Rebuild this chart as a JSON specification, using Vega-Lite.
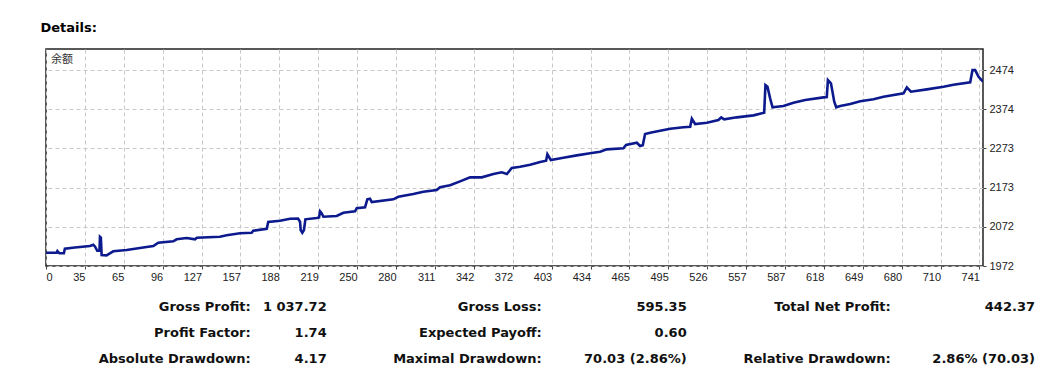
{
  "$schema": "https://vega.github.io/schema/vega-lite/v6.json",
  "autosize": {"type": "none"},
  "width": 937,
  "height": 217,
  "padding": {"left": 46, "top": 49, "right": 72, "bottom": 122},
  "background": "white",
  "title": {"text": "Details:", "anchor": "start", "dx": -5, "offset": 14, "fontSize": 13, "font": "DejaVu Sans", "fontWeight": "bold", "color": "#000"},
  "config": {
    "view": {"stroke": "#222", "strokeWidth": 1.5},
    "axis": {"labelFont": "Liberation Sans", "labelFontSize": 11, "labelColor": "#222", "gridColor": "#c8c8c8", "gridDash": [4, 3], "gridWidth": 1, "domain": false, "tickColor": "#444", "tickSize": 3, "title": null}
  },
  "datasets": {
    "balance": [
      {"n": 4.3, "b": 2006.1}, {"n": 12.7, "b": 2006}, {"n": 13.3, "b": 2010.4}, {"n": 14.9, "b": 2004.5},
      {"n": 18.4, "b": 2004.5}, {"n": 19.2, "b": 2016.3}, {"n": 27.1, "b": 2019.4}, {"n": 38.96, "b": 2023.2},
      {"n": 41.6, "b": 2026.6}, {"n": 42.9, "b": 2022}, {"n": 44.7, "b": 2011.2}, {"n": 46.5, "b": 2011.7},
      {"n": 46.9, "b": 2047}, {"n": 47.6, "b": 2045}, {"n": 48.2, "b": 2000.2}, {"n": 52.1, "b": 1999.4},
      {"n": 57.4, "b": 2009.7}, {"n": 67.9, "b": 2013}, {"n": 78.4, "b": 2018.1}, {"n": 89.0, "b": 2023.2},
      {"n": 92.9, "b": 2031.7}, {"n": 104.7, "b": 2035.3}, {"n": 107.4, "b": 2040.4}, {"n": 115.3, "b": 2043.7},
      {"n": 121.9, "b": 2040.4}, {"n": 123.4, "b": 2044.5}, {"n": 141.6, "b": 2047}, {"n": 146.9, "b": 2050.6},
      {"n": 157.4, "b": 2055.8}, {"n": 166.6, "b": 2057.3}, {"n": 167.9, "b": 2062.4}, {"n": 178.5, "b": 2067.5},
      {"n": 179.7, "b": 2084.7}, {"n": 189, "b": 2088}, {"n": 196.9, "b": 2093.2}, {"n": 203.2, "b": 2093.7},
      {"n": 204.8, "b": 2085.5}, {"n": 205.3, "b": 2064.2}, {"n": 206.6, "b": 2057.3}, {"n": 207.9, "b": 2064.2},
      {"n": 209, "b": 2091.6}, {"n": 218, "b": 2094.9}, {"n": 219.8, "b": 2096.2}, {"n": 220.6, "b": 2112.1},
      {"n": 221.7, "b": 2107.8}, {"n": 223.2, "b": 2098.3}, {"n": 233.7, "b": 2100.1}, {"n": 239, "b": 2108.5},
      {"n": 248.2, "b": 2112.1}, {"n": 249.5, "b": 2119.8}, {"n": 256.1, "b": 2122.4}, {"n": 257.9, "b": 2142.8},
      {"n": 260, "b": 2144.4}, {"n": 261.4, "b": 2135.9}, {"n": 278.4, "b": 2142.8}, {"n": 282.4, "b": 2149.5},
      {"n": 294.2, "b": 2156.4}, {"n": 302.1, "b": 2162.3}, {"n": 312.7, "b": 2166.7}, {"n": 315.3, "b": 2173.6},
      {"n": 323.2, "b": 2178.7}, {"n": 331.1, "b": 2188.9}, {"n": 339, "b": 2199.2}, {"n": 348.2, "b": 2199.2},
      {"n": 357.4, "b": 2207.6}, {"n": 364, "b": 2212}, {"n": 368, "b": 2207.6}, {"n": 371.9, "b": 2223},
      {"n": 378.5, "b": 2226.3}, {"n": 386.4, "b": 2231.5}, {"n": 394.3, "b": 2238.4}, {"n": 399, "b": 2241.7},
      {"n": 400, "b": 2258.1}, {"n": 402.7, "b": 2243.5}, {"n": 412.6, "b": 2249.4}, {"n": 423.2, "b": 2255.5},
      {"n": 433.7, "b": 2260.7}, {"n": 441.6, "b": 2264.8}, {"n": 446.9, "b": 2270.9}, {"n": 460, "b": 2273.5},
      {"n": 462.1, "b": 2281.9}, {"n": 470.6, "b": 2287.8}, {"n": 473.2, "b": 2279.4}, {"n": 475.3, "b": 2281.2},
      {"n": 477.1, "b": 2310.1}, {"n": 481.1, "b": 2313.4}, {"n": 489, "b": 2318.6}, {"n": 496.9, "b": 2323.7},
      {"n": 507.4, "b": 2327.3}, {"n": 512.7, "b": 2328.8}, {"n": 514, "b": 2349.3}, {"n": 516.6, "b": 2335.7},
      {"n": 525.9, "b": 2339}, {"n": 535, "b": 2346}, {"n": 537.2, "b": 2352.9}, {"n": 539.5, "b": 2347.8},
      {"n": 549.5, "b": 2352.9}, {"n": 562.7, "b": 2358}, {"n": 571.1, "b": 2364.7}, {"n": 572.1, "b": 2435.6},
      {"n": 573.7, "b": 2431.3}, {"n": 575.8, "b": 2401.5}, {"n": 577.7, "b": 2378.5}, {"n": 586.3, "b": 2381.8},
      {"n": 594.2, "b": 2390.3}, {"n": 603.5, "b": 2397.2}, {"n": 617.9, "b": 2404.1}, {"n": 620.5, "b": 2404.9},
      {"n": 621.4, "b": 2448.4}, {"n": 623.8, "b": 2440}, {"n": 626.4, "b": 2392.8}, {"n": 628, "b": 2378.5},
      {"n": 631.1, "b": 2381.8}, {"n": 639, "b": 2386.9}, {"n": 646.9, "b": 2393.9}, {"n": 657.4, "b": 2399},
      {"n": 665.3, "b": 2405.7}, {"n": 681.1, "b": 2414.4}, {"n": 683.7, "b": 2429.7}, {"n": 686.9, "b": 2418.5},
      {"n": 699.5, "b": 2424.6}, {"n": 712.6, "b": 2431.3}, {"n": 720.5, "b": 2436.4}, {"n": 733.7, "b": 2442.5},
      {"n": 735.5, "b": 2474}, {"n": 737.6, "b": 2474}, {"n": 740.3, "b": 2456.9}, {"n": 743.8, "b": 2444.1}
    ],
    "stats": [
      {"label": "Gross Profit:", "value": "1 037.72", "col": 1, "row": 1},
      {"label": "Profit Factor:", "value": "1.74", "col": 1, "row": 2},
      {"label": "Absolute Drawdown:", "value": "4.17", "col": 1, "row": 3},
      {"label": "Gross Loss:", "value": "595.35", "col": 2, "row": 1},
      {"label": "Expected Payoff:", "value": "0.60", "col": 2, "row": 2},
      {"label": "Maximal Drawdown:", "value": "70.03 (2.86%)", "col": 2, "row": 3},
      {"label": "Total Net Profit:", "value": "442.37", "col": 3, "row": 1},
      {"label": "Relative Drawdown:", "value": "2.86% (70.03)", "col": 3, "row": 3}
    ],
    "caption": [{"text": "余额", "n": 4.3, "b": 2528}]
  },
  "resolve": {"scale": {"x": "independent", "y": "independent"}},
  "layer": [
    {
      "data": {"name": "balance"},
      "mark": {"type": "line", "color": "#0c1a8e", "strokeWidth": 2.6, "clip": true},
      "encoding": {
        "x": {"field": "n", "type": "quantitative",
          "scale": {"domain": [4.3, 743.8], "nice": false, "zero": false},
          "axis": {"values": [4.3, 34.996, 65.692, 96.388, 127.084, 157.78, 188.476, 219.172, 249.868, 280.564, 311.26, 341.956, 372.652, 403.348, 434.044, 464.74, 495.436, 526.132, 556.828, 587.524, 618.22, 648.916, 679.612, 710.308, 741.004],
            "labelExpr": "['0','35','65','96','127','157','188','219','250','280','311','342','372','403','434','465','495','526','557','587','618','649','680','710','741'][round((datum.value - 4.3) / 30.696)]",
            "labelAlign": {"condition": {"test": "datum.value < 10", "value": "left"}, "value": "right"},
            "labelDx": 1, "labelPadding": 2, "labelFlush": false, "labelOverlap": false, "grid": true}},
        "y": {"field": "b", "type": "quantitative",
          "scale": {"domain": [1972, 2528], "nice": false, "zero": false},
          "axis": {"orient": "right", "values": [1972, 2072.4, 2172.8, 2273.2, 2373.6, 2474], "format": ".0f", "labelPadding": 3, "labelFlush": false, "labelOverlap": false, "grid": true}}
      }
    },
    {
      "data": {"name": "caption"},
      "mark": {"type": "text", "align": "left", "baseline": "middle", "dx": 5, "dy": 11, "font": "Noto Sans CJK SC", "fontSize": 11, "color": "#333"},
      "encoding": {
        "x": {"field": "n", "type": "quantitative", "scale": {"domain": [4.3, 743.8], "nice": false, "zero": false}, "axis": null},
        "y": {"field": "b", "type": "quantitative", "scale": {"domain": [1972, 2528], "nice": false, "zero": false}, "axis": null},
        "text": {"field": "text"}
      }
    },
    {
      "data": {"name": "stats"},
      "mark": {"type": "text", "align": "right", "baseline": "middle", "font": "DejaVu Sans", "fontWeight": "bold", "fontSize": 13, "color": "#111"},
      "encoding": {
        "x": {"field": "col", "type": "quantitative", "scale": {"domain": [1, 2, 3], "range": [204.7, 495.7, 844.7]}, "axis": null},
        "y": {"field": "row", "type": "quantitative", "scale": {"domain": [1, 3], "range": [258, 310]}, "axis": null},
        "text": {"field": "label"}
      }
    },
    {
      "data": {"name": "stats"},
      "mark": {"type": "text", "align": "right", "baseline": "middle", "font": "DejaVu Sans", "fontWeight": "bold", "fontSize": 13, "color": "#111"},
      "encoding": {
        "x": {"field": "col", "type": "quantitative", "scale": {"domain": [1, 2, 3], "range": [280.7, 640.7, 989]}, "axis": null},
        "y": {"field": "row", "type": "quantitative", "scale": {"domain": [1, 3], "range": [258, 310]}, "axis": null},
        "text": {"field": "value"}
      }
    }
  ]
}
